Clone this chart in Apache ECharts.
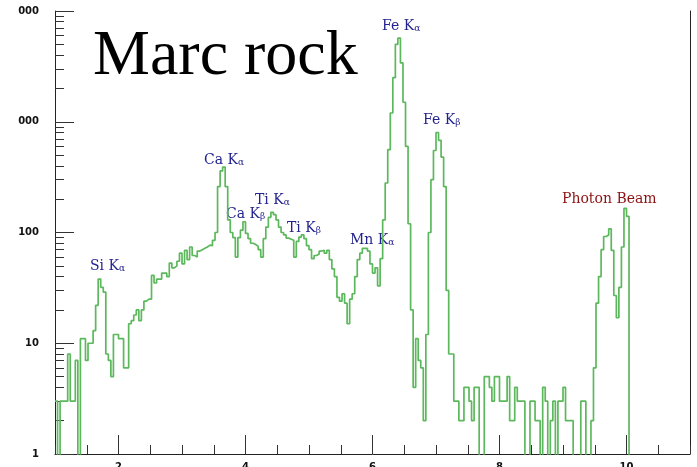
<!DOCTYPE html>
<html><head><meta charset="utf-8">
<script src="https://cdn.jsdelivr.net/npm/echarts@6/dist/echarts.min.js"></script>
<style>html,body{margin:0;padding:0;background:#fff;} #c{width:697px;height:467px;}</style>
</head><body><div id="c"></div>
<script>
// Histogram: bins of 0.04 keV starting at 1 keV
const binStart = 1;
const binWidth = 0.04;
const counts = [
  3,0,3,3,3,8,3,3,7,0,
  11,11,7,10,10,13,22,38,32,29,
  8,7,5,12,12,11,11,6,6,15,
  16,18,20,16,20,24,25,25,41,35,
  38,38,43,43,40,53,48,50,55,65,
  52,69,57,74,62,60,68,70,72,74,
  77,76,85,100,260,360,390,260,130,100,
  90,60,90,105,125,98,88,80,78,75,
  70,60,88,112,137,152,145,130,112,100,
  95,89,87,85,60,83,91,95,88,76,
  70,58,62,64,68,69,65,69,57,47,
  40,26,24,28,23,15,25,28,40,57,
  65,72,72,68,52,43,48,33,58,130,
  280,560,1200,2500,5000,5700,3400,1500,600,120,
  20,4,11,7,6,2,12,100,300,550,
  800,680,480,260,30,8,8,3,3,2,
  2,4,4,3,2,4,4,0,0,5,
  5,4,3,5,5,3,3,3,5,2,
  2,4,3,3,3,0,0,3,3,2,
  2,0,4,3,0,2,3,0,3,3,
  4,2,2,2,0,0,0,3,3,0,
  0,2,6,23,40,70,92,95,108,69,
  27,17,32,74,165,140,0,0,0,0,
  0,0,0,0,0,0,0,0,0,0,
  0,0,0,0,0,0,0,0,0,0
];
const xMajorTicks = [2, 4, 6, 8, 10];
const xTickLabels = ['2', '4', '6', '8', '10'];
const yTickLabels = ['1', '10', '100', '000', '000'];
const peakNames = ['Si', 'Ca', 'Ca', 'Ti', 'Ti', 'Mn', 'Fe', 'Fe'];
const peakLines = ['α', 'α', 'β', 'α', 'β', 'α', 'α', 'β'];
const beamLabel = 'Photon Beam';
const titleText = 'Marc rock';

// minor tick positions in log10 space (for the hidden helper axis)
const yMinorTicks = [];
for (let d = 0; d < 4; d++) for (let k = 2; k <= 9; k++) yMinorTicks.push(Math.log10(k * Math.pow(10, d)));

// empty bins drawn below the log axis floor (clipped)
const FLOOR = 0.5;
const lineData = counts.map((c, i) => [binStart + i * binWidth, c > 0 ? c : FLOOR]);
lineData.push([binStart + counts.length * binWidth, counts[counts.length - 1] > 0 ? counts[counts.length - 1] : FLOOR]);

const labelPos = [[90,266],[204,160],[226,214],[255,200],[287,228],[350,240],[382,26],[423,120]];
const navy = '#23238e';
const graphics = peakNames.map((n, i) => ({
  type: 'text', x: labelPos[i][0], y: labelPos[i][1],
  style: {
    text: '{m|' + n + ' K}{s|' + peakLines[i] + '}',
    verticalAlign: 'middle',
    rich: {
      m: { fontSize: 14, fontFamily: 'DejaVu Serif', fill: navy },
      s: { fontSize: 9, fontFamily: 'DejaVu Serif', fill: navy, verticalAlign: 'bottom' }
    }
  }
}));
graphics.push({ type: 'text', x: 562, y: 199, style: { text: beamLabel, fontSize: 14, fontFamily: 'DejaVu Serif', fill: '#8b1212', verticalAlign: 'middle' } });
graphics.push({ type: 'text', x: 93, y: 57, style: { text: titleText, fontSize: 64, fontFamily: 'Liberation Serif', fill: '#000', verticalAlign: 'middle' } });

const axisColor = '#222';
const labelFont = { fontFamily: 'DejaVu Sans', fontWeight: 'bold', fontSize: 10, color: '#111' };

const chart = echarts.init(document.getElementById('c'), null, { renderer: 'canvas' });
chart.setOption({
  animation: false,
  backgroundColor: '#fff',
  grid: { left: 55, right: 7, top: 11, bottom: 13, outerBoundsMode: 'none', containLabel: false },
  xAxis: [
    { type: 'value', min: 1, max: 11, position: 'bottom',
      axisLine: { show: true, onZero: false, lineStyle: { color: axisColor, width: 1 } },
      axisTick: { show: true, inside: true, length: 19, customValues: xMajorTicks, lineStyle: { color: '#333' } },
      axisLabel: Object.assign({ show: true, margin: 8, customValues: xMajorTicks,
        formatter: v => xTickLabels[xMajorTicks.indexOf(v)] }, labelFont),
      splitLine: { show: false } },
    { type: 'value', min: 1, max: 11, interval: 0.5, position: 'bottom',
      axisLine: { show: false, onZero: false },
      axisTick: { show: true, inside: true, length: 9, lineStyle: { color: '#333' } },
      axisLabel: { show: false }, splitLine: { show: false } }
  ],
  yAxis: [
    { type: 'log', logBase: 10, min: 1, max: 10000, position: 'left',
      axisLine: { show: true, lineStyle: { color: axisColor, width: 1 } },
      axisTick: { show: true, inside: true, length: 19, lineStyle: { color: '#333' } },
      axisLabel: Object.assign({ show: true, margin: 16,
        formatter: v => yTickLabels[Math.round(Math.log10(v))] }, labelFont),
      splitLine: { show: false } },
    { type: 'value', min: 0, max: 4, position: 'left',
      axisLine: { show: false },
      axisTick: { show: true, inside: true, length: 9, customValues: yMinorTicks, lineStyle: { color: '#333' } },
      axisLabel: { show: false }, splitLine: { show: false } },
    { type: 'value', min: 0, max: 4, position: 'right',
      axisLine: { show: true, lineStyle: { color: axisColor, width: 1 } },
      axisTick: { show: false }, axisLabel: { show: false }, splitLine: { show: false } }
  ],
  series: [{
    type: 'line', xAxisIndex: 0, yAxisIndex: 0,
    data: lineData, step: 'end', showSymbol: false, symbol: 'none', clip: true,
    lineStyle: { color: '#5cb85c', width: 1.7 },
    z: 1
  }],
  graphic: graphics
});
</script></body></html>
